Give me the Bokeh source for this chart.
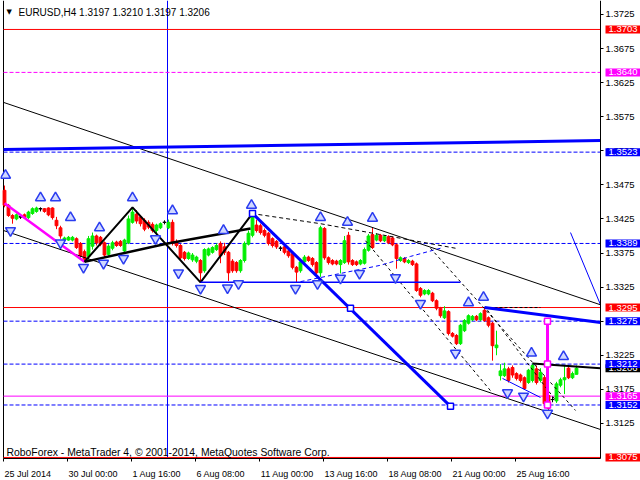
from bokeh.plotting import figure
from bokeh.models import Range1d, Label, FixedTicker, PrintfTickFormatter, LinearAxis
from bokeh.embed import file_html
from bokeh.resources import INLINE

# ---------------- data ----------------
title_text = "EURUSD,H4  1.3197 1.3210 1.3197 1.3206"
footer_text = "RoboForex - MetaTrader 4, \u00a9 2001-2014, MetaQuotes Software Corp."

opens = [1.3467,1.3445,1.3430,1.3425,1.3428,1.3431,1.3427,1.3433,1.3436,1.3440,
         1.3440,1.3441,1.3441,1.3423,1.3412,1.3394,1.3394,1.3394,1.3396,1.3389,
         1.3377,1.3370,1.3385,1.3400,1.3398,1.3390,1.3373,1.3382,1.3391,1.3392,
         1.3378,1.3390,1.3420,1.3432,1.3428,1.3423,1.3420,1.3417,1.3408,1.3412,
         1.3420,1.3412,1.3420,1.3392,1.3386,1.3376,1.3367,1.3365,1.3363,1.3364,
         1.3349,1.3372,1.3376,1.3380,1.3389,1.3384,1.3376,1.3363,1.3361,1.3349,
         1.3364,1.3388,1.3401,1.3416,1.3415,1.3408,1.3404,1.3396,1.3392,1.3382,
         1.3384,1.3378,1.3374,1.3354,1.3349,1.3362,1.3369,1.3367,1.3361,1.3346,
         1.3411,1.3368,1.3364,1.3363,1.3358,1.3361,1.3401,1.3364,1.3362,1.3359,
         1.3360,1.3379,1.3402,1.3394,1.3401,1.3393,1.3399,1.3397,1.3387,1.3364,
         1.3367,1.3361,1.3363,1.3359,1.3323,1.3315,1.3315,1.3316,1.3305,1.3294,
         1.3280,1.3289,1.3257,1.3254,1.3242,1.3261,1.3272,1.3277,1.3282,1.3277,
         1.3291,1.3280,1.3272,1.3236,1.3195,1.3195,1.3205,1.3207,1.3198,1.3196,
         1.3192,1.3185,1.3188,1.3205,1.3188,1.3192,1.3166,1.3160,1.3158,1.3181,
         1.3189,1.3206,1.3192,1.3197]
highs = [1.3474,1.3447,1.3432,1.3433,1.3431,1.3433,1.3437,1.3442,1.3443,1.3442,
         1.3441,1.3442,1.3442,1.3428,1.3415,1.3399,1.3400,1.3400,1.3398,1.3391,
         1.3380,1.3400,1.3405,1.3402,1.3400,1.3392,1.3388,1.3393,1.3393,1.3394,
         1.3396,1.3430,1.3442,1.3438,1.3430,1.3426,1.3423,1.3420,1.3418,1.3420,
         1.3423,1.3424,1.3424,1.3395,1.3388,1.3378,1.3377,1.3375,1.3371,1.3366,
         1.3382,1.3383,1.3385,1.3389,1.3392,1.3390,1.3378,1.3366,1.3363,1.3366,
         1.3392,1.3408,1.3433,1.3424,1.3418,1.3411,1.3406,1.3398,1.3394,1.3385,
         1.3386,1.3380,1.3376,1.3356,1.3365,1.3372,1.3371,1.3369,1.3363,1.3415,
         1.3413,1.3370,1.3366,1.3365,1.3366,1.3400,1.3406,1.3366,1.3364,1.3366,
         1.3383,1.3403,1.3412,1.3404,1.3403,1.3401,1.3401,1.3399,1.3389,1.3370,
         1.3369,1.3366,1.3365,1.3361,1.3325,1.3322,1.3322,1.3318,1.3307,1.3296,
         1.3297,1.3291,1.3259,1.3256,1.3271,1.3278,1.3285,1.3284,1.3284,1.3288,
         1.3295,1.3282,1.3274,1.3261,1.3212,1.3214,1.3208,1.3210,1.3200,1.3198,
         1.3194,1.3205,1.3213,1.3210,1.3206,1.3195,1.3168,1.3164,1.3186,1.3192,
         1.3210,1.3209,1.3201,1.3210]
lows = [1.3442,1.3428,1.3418,1.3423,1.3425,1.3425,1.3425,1.3431,1.3434,1.3436,
        1.3434,1.3429,1.3424,1.3410,1.3396,1.3392,1.3393,1.3392,1.3381,1.3368,
        1.3362,1.3365,1.3380,1.3386,1.3385,1.3368,1.3371,1.3379,1.3384,1.3384,
        1.3375,1.3388,1.3418,1.3418,1.3414,1.3407,1.3410,1.3405,1.3404,1.3410,
        1.3417,1.3410,1.3386,1.3383,1.3364,1.3364,1.3365,1.3362,1.3360,1.3332,
        1.3346,1.3370,1.3374,1.3378,1.3360,1.3372,1.3334,1.3346,1.3346,1.3346,
        1.3361,1.3386,1.3398,1.3405,1.3402,1.3398,1.3386,1.3383,1.3381,1.3378,
        1.3373,1.3368,1.3351,1.3332,1.3346,1.3360,1.3362,1.3355,1.3343,1.3340,
        1.3365,1.3358,1.3357,1.3357,1.3345,1.3359,1.3358,1.3356,1.3356,1.3357,
        1.3358,1.3377,1.3381,1.3392,1.3391,1.3391,1.3388,1.3385,1.3352,1.3362,
        1.3360,1.3359,1.3356,1.3318,1.3310,1.3313,1.3313,1.3303,1.3291,1.3280,
        1.3278,1.3254,1.3251,1.3240,1.3240,1.3259,1.3270,1.3275,1.3275,1.3275,
        1.3274,1.3266,1.3217,1.3225,1.3188,1.3193,1.3185,1.3192,1.3188,1.3185,
        1.3174,1.3183,1.3185,1.3182,1.3185,1.3150,1.3140,1.3156,1.3155,1.3178,
        1.3168,1.3190,1.3190,1.3197]
closes = [1.3445,1.3430,1.3426,1.3431,1.3428,1.3427,1.3435,1.3440,1.3441,1.3440,
          1.3436,1.3431,1.3427,1.3415,1.3400,1.3397,1.3398,1.3398,1.3383,1.3371,
          1.3366,1.3396,1.3400,1.3390,1.3388,1.3372,1.3385,1.3390,1.3386,1.3386,
          1.3394,1.3425,1.3435,1.3422,1.3418,1.3410,1.3413,1.3408,1.3416,1.3418,
          1.3420,1.3420,1.3389,1.3386,1.3368,1.3367,1.3375,1.3372,1.3369,1.3346,
          1.3380,1.3381,1.3383,1.3386,1.3371,1.3376,1.3346,1.3349,1.3349,1.3364,
          1.3389,1.3404,1.3430,1.3408,1.3405,1.3401,1.3389,1.3386,1.3384,1.3382,
          1.3376,1.3371,1.3354,1.3347,1.3362,1.3369,1.3364,1.3358,1.3346,1.3412,
          1.3368,1.3361,1.3359,1.3359,1.3364,1.3393,1.3362,1.3358,1.3358,1.3364,
          1.3380,1.3400,1.3383,1.3401,1.3393,1.3399,1.3390,1.3387,1.3367,1.3368,
          1.3362,1.3364,1.3358,1.3320,1.3313,1.3320,1.3320,1.3305,1.3294,1.3283,
          1.3290,1.3257,1.3253,1.3242,1.3269,1.3276,1.3283,1.3282,1.3277,1.3286,
          1.3276,1.3269,1.3239,1.3240,1.3202,1.3205,1.3188,1.3196,1.3191,1.3188,
          1.3176,1.3203,1.3210,1.3185,1.3200,1.3154,1.3147,1.3160,1.3183,1.3189,
          1.3192,1.3192,1.3198,1.3206]

time_labels = ["25 Jul 2014", "30 Jul 00:00", "1 Aug 16:00", "6 Aug 08:00", "11 Aug 00:00",
               "13 Aug 16:00", "18 Aug 08:00", "21 Aug 00:00", "25 Aug 16:00"]
time_label_bars = [-0.25, 15.75, 31.75, 47.75, 63.75, 79.75, 95.75, 111.75, 127.75]

price_ticks = [1.3125, 1.3175, 1.3225, 1.3275, 1.3325, 1.3375, 1.3425, 1.3475,
               1.3525, 1.3575, 1.3625, 1.3675, 1.3725]

level_prices = [1.3703, 1.3640, 1.3523, 1.3389, 1.3295, 1.3275, 1.3212, 1.3165, 1.3152, 1.3075]
level_colors = ["#ff0000", "#ff00ff", "#0000ff", "#0000ff", "#ff0000", "#0000ff", "#0000ff",
                "#ff00ff", "#0000ff", "#ff0000"]
level_dashes = ["solid", "4 2", "4 2", "4 2", "solid", "4 2", "4 2", "solid", "4 2", "solid"]

box_prices = [1.3703, 1.3640, 1.3523, 1.3389, 1.3295, 1.3275, 1.3206, 1.3212, 1.3165, 1.3152, 1.3075]
box_colors = ["#ff0000", "#ff00ff", "#0000ff", "#0000ff", "#ff0000", "#0000ff", "#000000",
              "#0000ff", "#ff00ff", "#0000ff", "#ff0000"]

vline_bar = 40.75

magenta_wave_bars = [0, 20]
magenta_wave_prices = [1.3448, 1.3362]
black_zigzag_bars = [20, 32, 49, 62]
black_zigzag_prices = [1.3362, 1.3442, 1.3332, 1.3433]
black_wave_bars = [20, 40.75, 61.5]
black_wave_prices = [1.3362, 1.3389, 1.3411]
blue_wave_bars = [62, 111.5]
blue_wave_prices = [1.3433, 1.3150]
blue_wave_mark_bars = [62, 86.5, 111.5]
blue_wave_mark_prices = [1.3433, 1.3294, 1.3150]
blue_support_bars = [49, 114]
blue_support_prices = [1.3332, 1.3332]
blue_trend_bars = [120, 149]
blue_trend_prices = [1.3295, 1.3273]
black_short_dash_bars = [120, 134]
black_short_dash_prices = [1.3295, 1.3295]
black_trend_bars = [132, 149]
black_trend_prices = [1.3213, 1.3206]
target_bar = 135.75
target_prices = [1.3275, 1.3212, 1.3152]
forecast_bars = [141.5, 149]
forecast_prices = [1.3405, 1.3299]
thin_blue_bars = [124.5, 134]
thin_blue_prices = [1.3191, 1.3163]
channel_upper_bars = [-0.25, 149]
channel_upper_prices = [1.3596, 1.3299]
channel_lower_bars = [-0.25, 149]
channel_lower_prices = [1.3408, 1.3116]
top_trend_bars = [-0.25, 149]
top_trend_prices = [1.3527, 1.3540]
dash_curve_bars = [61.75, 79, 112.75]
dash_curve_prices = [1.3433, 1.3418, 1.3382]
blue_dash_curve_bars = [74, 84, 94, 101.5, 109]
blue_dash_curve_prices = [1.3333, 1.3345, 1.3357, 1.3370, 1.3382]
diag1_bars = [90.25, 121.5]
diag1_prices = [1.3393, 1.3173]
diag2_bars = [106.5, 142.75]
diag2_prices = [1.3382, 1.3144]
diag3_bars = [120.75, 137.75]
diag3_prices = [1.3291, 1.3159]

up_fractal_bars = [0.25, 9, 12.75, 16.5, 23.75, 32, 42, 54.75, 61.75, 79, 85.75, 92,
                   116, 119.75, 131.75, 139.75]
up_fractal_prices = [1.3489, 1.3456, 1.3456, 1.3427, 1.3412, 1.3456, 1.3437, 1.3408,
                     1.3445, 1.3427, 1.3420, 1.3426, 1.3302, 1.3310, 1.3228, 1.3223]
down_fractal_bars = [1.5, 14, 19.75, 24.75, 29.75, 37.75, 43.5, 49, 55.75, 58.5, 72.75,
                     78.25, 84, 88.75, 97.75, 104, 112.75, 125.75, 129.75, 135.75]
down_fractal_prices = [1.3408, 1.3390, 1.3354, 1.3360, 1.3367, 1.3396, 1.3346, 1.3323,
                       1.3324, 1.3330, 1.3323, 1.3330, 1.3338, 1.3345, 1.3339, 1.3301,
                       1.3228, 1.3170, 1.3165, 1.3140]

FONT = "Liberation Sans"
FSIZE = 9.5
TSIZE = 9.0
HSIZE = 10.0
FOOTSIZE = 10.4
BLUE = "#0000ff"
GREEN = "#00ee00"
RED = "#ff0000"
PX_PER_BAR = 4.0

# chart window: bars -1..159 across the page, prices from the bottom to the top edge
X0, X1 = -1.0, 159.0
Y0, Y1 = 1.30412, 1.37455
AXIS_BAR = 149.0          # price scale position (right edge of the price area)
AXIS_PRICE = 1.30735      # time scale position (bottom edge of the price area)
LEFT_BAR = -0.25          # left border of the price area

# approximate advance widths (em) of Liberation Sans, to centre the time labels
CHAR_EM = {ch: 0.556 for ch in "0123456789"}
CHAR_EM.update({" ": 0.278, ":": 0.278, "J": 0.5, "u": 0.556, "l": 0.222,
                "A": 0.667, "g": 0.556})


def text_width_px(s, size):
    return sum(CHAR_EM.get(ch, 0.556) for ch in s) * size


label_centers = [b + (1.0 + text_width_px(t, TSIZE) / 2) / PX_PER_BAR
                 for b, t in zip(time_label_bars, time_labels)]

p = figure(width=640, height=480, output_backend="svg", toolbar_location=None,
           x_range=Range1d(X0, X1), y_range=Range1d(Y0, Y1),
           y_axis_location="right", x_axis_location="below",
           min_border_left=0, min_border_top=0, min_border_right=0, min_border_bottom=0,
           background_fill_color="white", border_fill_color="white")
p.grid.visible = False
p.outline_line_color = None

# time scale: tick marks at the bar positions ...
xa = p.xaxis[0]
xa.fixed_location = AXIS_PRICE
xa.bounds = (LEFT_BAR, AXIS_BAR)
xa.ticker = FixedTicker(ticks=time_label_bars)
xa.major_label_text_color = None
xa.major_tick_out = 3
xa.major_tick_in = 0
xa.minor_tick_line_color = None
xa.axis_line_color = "black"

# ... and the labels that start at them
xl = LinearAxis(fixed_location=AXIS_PRICE, ticker=FixedTicker(ticks=label_centers),
                major_label_overrides={c: t for c, t in zip(label_centers, time_labels)},
                major_label_text_font=FONT, major_label_text_font_size=f"{TSIZE}px",
                major_label_text_color="black", major_label_standoff=11,
                major_tick_out=0, major_tick_in=0, major_tick_line_color=None,
                minor_tick_line_color=None, axis_line_color=None)
p.add_layout(xl, "below")

ya = p.yaxis[0]
ya.fixed_location = AXIS_BAR
ya.bounds = (AXIS_PRICE, Y1)
ya.ticker = FixedTicker(ticks=price_ticks)
ya.formatter = PrintfTickFormatter(format="%.4f")
ya.major_label_text_font = FONT
ya.major_label_text_font_size = f"{FSIZE}px"
ya.major_label_text_color = "black"
ya.major_tick_out = 3
ya.major_tick_in = 0
ya.major_label_standoff = 2
ya.minor_tick_line_color = None
ya.axis_line_color = "black"

# left border and vertical line
p.segment(x0=[LEFT_BAR], x1=[LEFT_BAR], y0=[AXIS_PRICE], y1=[Y1], line_color="black", line_width=1)
p.segment(x0=[vline_bar], x1=[vline_bar], y0=[AXIS_PRICE], y1=[Y1], line_color=BLUE, line_width=1)

# horizontal levels
for pr, col, dash in zip(level_prices, level_colors, level_dashes):
    p.line([LEFT_BAR, AXIS_BAR], [pr, pr], line_color=col, line_dash=dash, line_width=1)

# candles
n = len(opens)
bars = list(range(n))
body_top = [max(o, c) for o, c in zip(opens, closes)]
body_bot = [min(o, c) for o, c in zip(opens, closes)]
cols = [GREEN if c > o else (RED if c < o else "black") for o, c in zip(opens, closes)]
p.segment(x0=bars, x1=bars, y0=lows, y1=highs, line_color=cols, line_width=1)
p.vbar(x=bars, width=0.7, top=body_top, bottom=body_bot, fill_color=cols, line_color=cols)
doji = [i for i in bars if opens[i] == closes[i]]
p.segment(x0=[i - 0.45 for i in doji], x1=[i + 0.45 for i in doji],
          y0=[opens[i] for i in doji], y1=[opens[i] for i in doji],
          line_color="black", line_width=1)

# channel & analysis drawings
p.line(channel_upper_bars, channel_upper_prices, line_color="black", line_width=1)
p.line(channel_lower_bars, channel_lower_prices, line_color="black", line_width=1)
p.line(top_trend_bars, top_trend_prices, line_color=BLUE, line_width=3)
p.line(dash_curve_bars, dash_curve_prices, line_color="black", line_width=1, line_dash="4 3")
p.line(blue_dash_curve_bars, blue_dash_curve_prices, line_color=BLUE, line_width=1, line_dash="4 3")
for bx, py in [(diag1_bars, diag1_prices), (diag2_bars, diag2_prices), (diag3_bars, diag3_prices)]:
    p.line(bx, py, line_color="black", line_width=1, line_dash="3 3")
p.line(black_short_dash_bars, black_short_dash_prices, line_color="black", line_width=1, line_dash="3 2")

p.line(magenta_wave_bars, magenta_wave_prices, line_color="#ff00ff", line_width=2.5)
p.line(black_zigzag_bars, black_zigzag_prices, line_color="black", line_width=2)
p.line(black_wave_bars, black_wave_prices, line_color="black", line_width=2.5)
p.line(blue_support_bars, blue_support_prices, line_color=BLUE, line_width=1.5)
p.line(blue_wave_bars, blue_wave_prices, line_color=BLUE, line_width=3)
p.scatter(blue_wave_mark_bars, blue_wave_mark_prices, marker="square", size=6,
          fill_color="white", line_color=BLUE, line_width=1.5)
p.line(blue_trend_bars, blue_trend_prices, line_color=BLUE, line_width=3)
p.line(black_trend_bars, black_trend_prices, line_color="black", line_width=2)
p.line(forecast_bars, forecast_prices, line_color=BLUE, line_width=1)
p.line(thin_blue_bars, thin_blue_prices, line_color=BLUE, line_width=1)
p.line([target_bar] * len(target_prices), target_prices, line_color="#ff00ff", line_width=3)
p.scatter([target_bar] * len(target_prices), target_prices, marker="square", size=6,
          fill_color="white", line_color="#ff00ff", line_width=1.5)

# fractals
p.scatter(up_fractal_bars, up_fractal_prices, marker="triangle", size=10,
          fill_color="#d0d8ff", line_color="#2a3cf0", line_width=1.5)
p.scatter(down_fractal_bars, down_fractal_prices, marker="inverted_triangle", size=10,
          fill_color="#d0d8ff", line_color="#2a3cf0", line_width=1.5)

# price boxes on the right scale
for pr, col in zip(box_prices, box_colors):
    p.add_layout(Label(x=AXIS_BAR, y=pr, x_offset=5, text=f"{pr:.4f}", text_color="white",
                       text_font=FONT, text_font_size=f"{FSIZE}px", text_baseline="middle",
                       text_align="left", background_fill_color=col,
                       padding=dict(x=3, y=1)))

# header and footer
p.add_layout(Label(x=0.5, y=1.37285, text="\u25bc", text_color="black",
                   text_font="DejaVu Sans", text_font_size="7px", text_baseline="middle"))
p.add_layout(Label(x=3.5, y=1.37279, text=title_text, text_color="black",
                   text_font=FONT, text_font_size=f"{HSIZE}px", text_baseline="middle"))
p.add_layout(Label(x=0.5, y=1.30823, text=footer_text, text_color="black",
                   text_font=FONT, text_font_size=f"{FOOTSIZE}px", text_baseline="middle"))

open("out.html", "w").write(file_html(p, INLINE))
